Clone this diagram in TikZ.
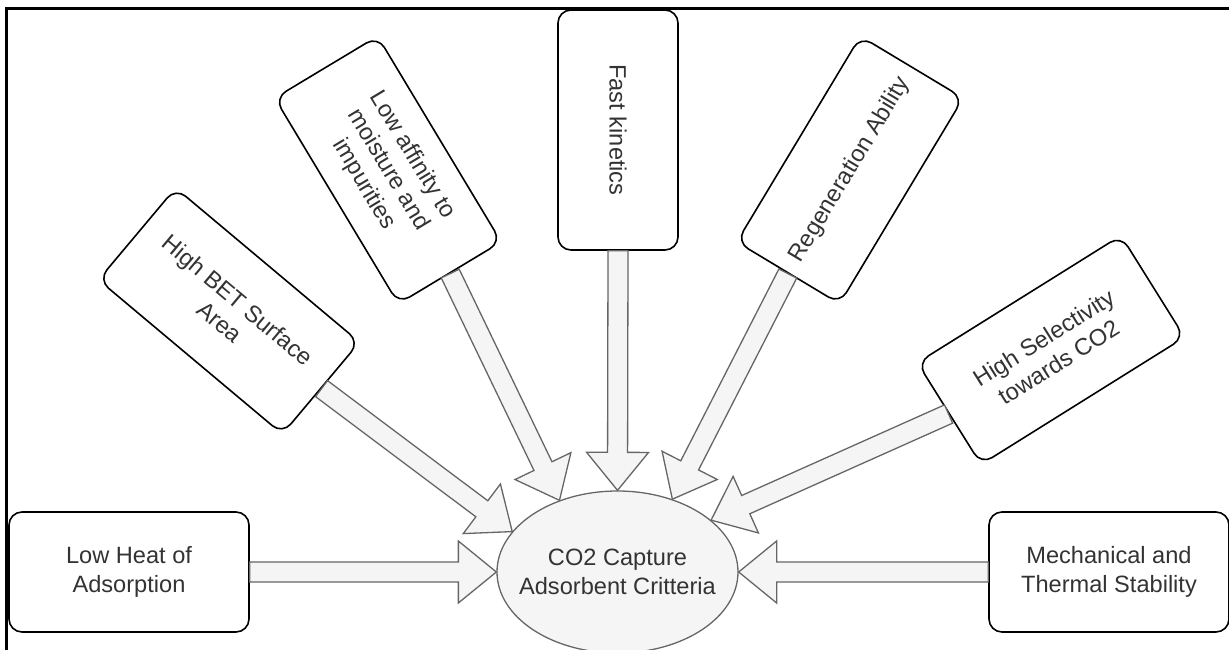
\documentclass[tikz,border=0pt]{standalone}
\usepackage{fontspec}
\setmainfont{Liberation Sans}
\usetikzlibrary{shapes.geometric,calc}
\definecolor{arrfill}{HTML}{F5F5F5}
\definecolor{arrline}{HTML}{666666}
\definecolor{txtc}{HTML}{333333}
\tikzset{
  crit/.style={draw=black, line width=1.6pt, rounded corners=13pt, fill=white,
    minimum width=240pt, minimum height=120pt, inner sep=0pt, align=center,
    text=txtc, font=\fontsize{23.6}{28.3}\selectfont},
  flexa/.style={draw=arrline, fill=arrfill, line width=1.3pt, line join=miter},
  hub/.style={ellipse, draw=arrline, fill=arrfill, line width=1.3pt,
    minimum width=241pt, minimum height=162pt, inner sep=0pt},
  hubtext/.style={align=center, text=txtc, font=\fontsize{23.6}{28.3}\selectfont},
  frameline/.style={line width=2.5pt, draw=black}
}
\newcommand\flexarrow[2]{%
  \coordinate (fa-a) at (#1);
  \coordinate (fa-b) at (#2);
  \coordinate (fa-h) at ($(fa-b)!38pt!(fa-a)$);
  \draw[flexa] ($(fa-a)!10pt!90:(fa-b)$) -- ($(fa-h)!10pt!90:(fa-b)$)
    -- ($(fa-h)!31pt!90:(fa-b)$) -- (fa-b) -- ($(fa-h)!31pt!-90:(fa-b)$)
    -- ($(fa-h)!10pt!-90:(fa-b)$) -- ($(fa-a)!10pt!-90:(fa-b)$) -- cycle;}
\begin{document}
\begin{tikzpicture}[x=1pt,y=-1pt]
\useasboundingbox (0,0) rectangle (1229,650);
\coordinate (fbl) at (6.5,651);
\coordinate (ftl) at (6.5,8.5);
\coordinate (ftr) at (1230,8.5);
\draw[frameline] (fbl) -- (ftl) -- (ftr);

\node[hub] (ell) at (617.5,572) {};
\node[hubtext] (elltxt) at (ell.center) {CO2 Capture\\Adsorbent Critteria};

\node[crit] (lh) at (129,572) {Low Heat of\\Adsorption};
\node[crit] (mech) at (1109,572) {Mechanical and\\Thermal Stability};
\node[crit, rotate=-90] (fast) at (618,130) {Fast kinetics};
\node[crit, rotate=-59] (aff) at (388,170) {Low affinity to\\moisture and\\impurities};
\node[crit, rotate=59] (reg) at (850,170) {Regeneration Ability};
\node[crit, rotate=-40] (bet) at (229,311) {High BET Surface\\Area};
\node[crit, rotate=32] (sel) at (1051,350) {High Selectivity\\towards CO2};

\flexarrow{lh.east}{ell.west}
\flexarrow{mech.west}{ell.east}
\flexarrow{fast.east}{ell.north}
\flexarrow{aff.east}{ell.129}
\flexarrow{reg.west}{ell.53}
\flexarrow{bet.east}{ell.159}
\flexarrow{sel.west}{ell.29}
\end{tikzpicture}
\end{document}
